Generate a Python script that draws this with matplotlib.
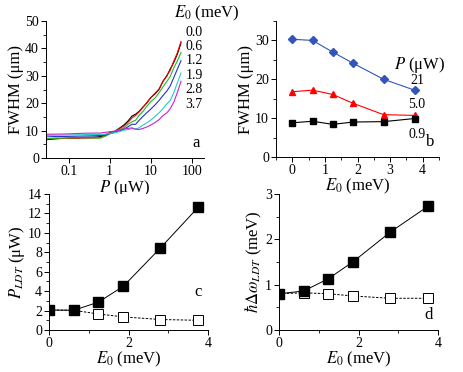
import matplotlib
matplotlib.use("Agg")
import matplotlib.pyplot as plt
from matplotlib import font_manager
from matplotlib.ticker import AutoMinorLocator, LogLocator, NullFormatter, FixedLocator

serif_names = {f.name for f in font_manager.fontManager.ttflist}
plt.rcParams["font.family"] = "serif"
plt.rcParams["font.serif"] = [n for n in ["Liberation Serif", "Times New Roman", "DejaVu Serif"]
                              if n in serif_names]
plt.rcParams["mathtext.fontset"] = "stix"

# ---- panel a: FWHM vs pump power for several detunings ----
power = [0.03, 0.05, 0.1, 0.2, 0.4, 0.6, 0.8, 1.0, 1.3, 1.7, 2.2, 2.8, 3.5,
         4.3, 5.2, 6.5, 8, 10, 13, 16, 20, 25, 30, 37, 45, 55]
fwhm_e00 = [6.7, 7.0, 7.3, 7.5, 7.6, 7.8, 8.6, 9.2, 9.6, 10.8, 12.0, 13.5, 15.3,
            16.0, 17.0, 18.6, 20.0, 22.0, 23.5, 25.0, 28.0, 30.0, 32.5, 35.0, 38.0, 42.0]
fwhm_e06 = [7.2, 7.2, 7.1, 7.2, 7.3, 7.4, 8.3, 9.0, 9.6, 10.6, 11.6, 13.0, 14.6,
            15.6, 16.8, 18.5, 20.2, 22.0, 23.8, 25.2, 28.0, 30.2, 32.0, 35.5, 38.5, 42.5]
fwhm_e12 = [7.0, 7.2, 7.3, 7.4, 7.3, 7.3, 8.0, 8.8, 9.4, 10.2, 11.0, 12.3, 13.2,
            13.8, 15.5, 17.0, 18.8, 20.5, 22.0, 23.8, 26.0, 28.0, 29.8, 33.0, 35.5, 38.5]
fwhm_e19 = [8.0, 7.8, 7.9, 8.0, 8.1, 8.2, 8.4, 8.9, 9.3, 9.8, 10.5, 11.4, 12.3,
            12.3, 13.7, 15.2, 16.5, 17.8, 19.5, 21.0, 22.8, 24.5, 26.3, 29.5, 32.5, 35.5]
fwhm_e28 = [8.3, 8.3, 8.4, 8.5, 8.6, 8.6, 8.7, 9.0, 9.2, 9.6, 10.1, 10.4, 10.7,
            10.6, 11.0, 12.0, 12.8, 13.8, 15.2, 16.5, 18.0, 19.8, 21.0, 24.0, 27.5, 31.0]
fwhm_e37 = [8.7, 8.7, 8.8, 9.0, 9.1, 9.1, 9.4, 9.6, 9.8, 10.2, 10.6, 10.8, 11.0,
            10.5, 10.4, 10.8, 11.3, 12.0, 13.0, 14.0, 15.5, 16.5, 18.0, 20.5, 24.0, 28.0]
detuning_labels = ["0.0", "0.6", "1.2", "1.9", "2.8", "3.7"]

# ---- panel b: FWHM vs detuning for three powers ----
e0 = [0, 0.62, 1.24, 1.87, 2.8, 3.75]
fwhm_p21 = [30.3, 30.0, 27.0, 24.1, 20.0, 17.2]
fwhm_p50 = [16.8, 17.2, 16.1, 13.8, 10.9, 10.7]
fwhm_p09 = [8.8, 9.2, 8.4, 9.0, 9.1, 9.9]
power_labels = ["21", "5.0", "0.9"]

# ---- panels c, d: threshold power and blueshift ----
p_ldt_filled = [2.06, 2.03, 2.86, 4.5, 8.43, 12.62]
p_ldt_open = [2.06, 2.03, 1.65, 1.35, 1.08, 1.0]
dw_ldt_filled = [0.80, 0.86, 1.13, 1.51, 2.16, 2.73]
dw_ldt_open = [0.80, 0.82, 0.80, 0.75, 0.70, 0.70]

W, H = 463, 372
fig = plt.figure(figsize=(W / 100, H / 100), dpi=100)


def px_axes(x0, y0, x1, y1):
    return fig.add_axes([x0 / W, 1 - y1 / H, (x1 - x0) / W, (y1 - y0) / H])


def style(ax):
    for s in ("top", "right"):
        ax.spines[s].set_visible(False)
    ax.tick_params(which="major", direction="out", length=3.5, width=0.7, labelsize=10, pad=1.5)
    ax.tick_params(which="minor", direction="out", length=2, width=0.6)
    for s in ("left", "bottom"):
        ax.spines[s].set_linewidth(0.7)


E0_LABEL = r"$E_{\mathit{0}}$ (meV)"
LABEL_FS = 12

# panel a
ax = px_axes(46, 21, 204, 158)
colors_a = ["black", "red", "#22bb22", "#2233cc", "#22cccc", "#cc22cc"]
for ys, c in zip([fwhm_e00, fwhm_e06, fwhm_e12, fwhm_e19, fwhm_e28, fwhm_e37], colors_a):
    ax.plot(power, ys, color=c, lw=0.8)
ax.set_xscale("log")
ax.set_xlim(0.028, 200)
ax.set_ylim(0, 50)
ax.set_yticks(range(0, 51, 10))
ax.xaxis.set_major_locator(FixedLocator([0.1, 1, 10, 100]))
ax.set_xticklabels(["0.1", "1", "10", "100"])
ax.xaxis.set_minor_locator(LogLocator(base=10, subs=range(2, 10)))
ax.xaxis.set_minor_formatter(NullFormatter())
ax.yaxis.set_minor_locator(AutoMinorLocator(2))
style(ax)
ax.set_xlabel(r"$P$ (μW)", fontsize=LABEL_FS, labelpad=0)
ax.set_ylabel("FWHM (μm)", fontsize=LABEL_FS, labelpad=1)
ax.text(0.97, 0.05, "a", transform=ax.transAxes, ha="right", va="bottom", fontsize=12)
fig.text(207 / W, 1 - 13 / H, E0_LABEL, ha="center", va="center", fontsize=LABEL_FS)
for i, lab in enumerate(detuning_labels):
    fig.text(194 / W, 1 - (32 + i * 14.4) / H, lab, ha="center", va="center", fontsize=10)

# panel b
ax = px_axes(276, 21, 439, 157)
ax.plot(e0, fwhm_p21, color="#3355bb", marker="D", ms=4.5, lw=0.8)
ax.plot(e0, fwhm_p50, color="red", marker="^", ms=5, lw=0.8)
ax.plot(e0, fwhm_p09, color="black", marker="s", ms=4, lw=0.8)
ax.set_xlim(-0.5, 4.5)
ax.set_ylim(0, 35)
ax.set_xticks([0, 1, 2, 3, 4])
ax.set_yticks([0, 10, 20, 30])
ax.xaxis.set_minor_locator(AutoMinorLocator(2))
ax.yaxis.set_minor_locator(AutoMinorLocator(2))
style(ax)
ax.set_xlabel(E0_LABEL, fontsize=LABEL_FS, labelpad=0)
ax.set_ylabel("FWHM (μm)", fontsize=LABEL_FS, labelpad=1)
ax.text(0.97, 0.05, "b", transform=ax.transAxes, ha="right", va="bottom", fontsize=12)
fig.text(420 / W, 1 - 65 / H, r"$P$ (μW)", ha="center", va="center", fontsize=LABEL_FS)
for lab, yp in zip(power_labels, [80, 105, 134]):
    fig.text(417 / W, 1 - yp / H, lab, ha="center", va="center", fontsize=10)

# panel c
ax = px_axes(49, 194, 208, 330)
ax.plot(e0, p_ldt_open, color="black", ls=(0, (2.5, 1.5)), lw=0.7, marker="s",
        ms=6.5, mfc="white", mec="black", mew=0.7)
ax.plot(e0, p_ldt_filled, color="black", lw=0.7, marker="s", ms=6.5)
ax.set_xlim(0, 4)
ax.set_ylim(0, 14)
ax.set_yticks(range(0, 15, 2))
ax.xaxis.set_minor_locator(AutoMinorLocator(2))
ax.yaxis.set_minor_locator(AutoMinorLocator(2))
style(ax)
ax.set_xlabel(E0_LABEL, fontsize=LABEL_FS, labelpad=0)
ax.set_ylabel(r"$P_{LDT}$ (μW)", fontsize=LABEL_FS, labelpad=1)
ax.text(0.96, 0.22, "c", transform=ax.transAxes, ha="right", va="bottom", fontsize=12)

# panel d
ax = px_axes(279, 194, 438, 330)
ax.plot(e0, dw_ldt_open, color="black", ls=(0, (2.5, 1.5)), lw=0.7, marker="s",
        ms=6.5, mfc="white", mec="black", mew=0.7)
ax.plot(e0, dw_ldt_filled, color="black", lw=0.7, marker="s", ms=6.5)
ax.set_xlim(0, 4)
ax.set_ylim(0, 3)
ax.set_yticks([0, 1, 2, 3])
ax.xaxis.set_minor_locator(AutoMinorLocator(2))
ax.yaxis.set_minor_locator(AutoMinorLocator(2))
style(ax)
ax.set_xlabel(E0_LABEL, fontsize=LABEL_FS, labelpad=0)
ax.set_ylabel(r"$\hbar\mathit{\Delta}\omega_{LDT}$ (meV)", fontsize=LABEL_FS, labelpad=1)
ax.text(0.97, 0.05, "d", transform=ax.transAxes, ha="right", va="bottom", fontsize=12)

fig.savefig("out.png", dpi=100)
